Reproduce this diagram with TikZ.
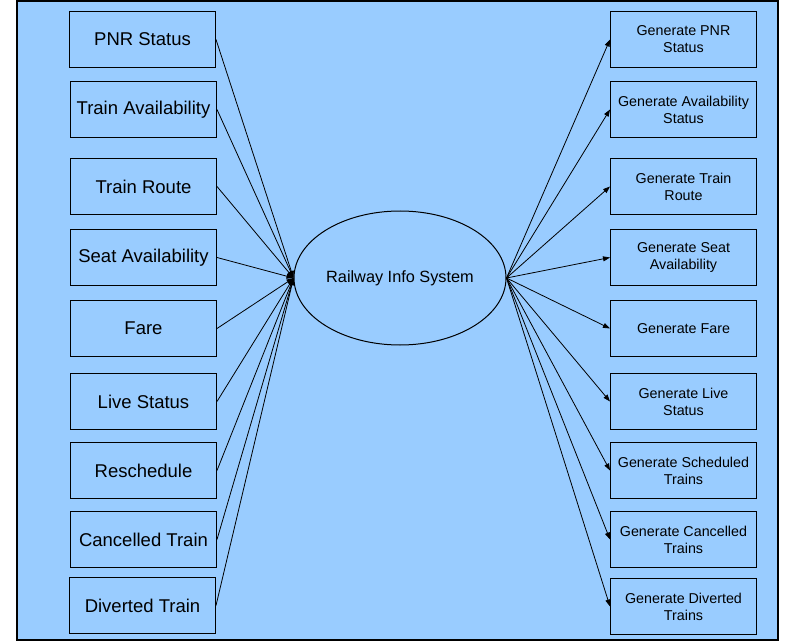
\documentclass[tikz,border=0pt]{standalone}
\usepackage{fontspec}
\setmainfont{Liberation Sans}
\usetikzlibrary{arrows.meta,shapes.geometric}
\definecolor{bgblue}{RGB}{153,204,255}
\tikzset{
  lbox/.style={draw=black, line width=1pt, minimum width=146pt, minimum height=56pt, inner sep=0pt, font=\fontsize{18.5}{21}\selectfont, anchor=north west},
  rbox/.style={draw=black, line width=1pt, minimum width=146pt, minimum height=56pt, inner sep=0pt, font=\fontsize{14.3}{17}\selectfont, align=center, anchor=north west},
  conn/.style={line width=0.8pt, -{Triangle[length=7pt,width=5pt]}},
}
\begin{document}
\begin{tikzpicture}[x=1pt,y=-1pt]
\useasboundingbox (0,0) rectangle (799,644);
\fill[white] (0,0) rectangle (799,644);
\draw[fill=bgblue, line width=1.2pt] (17,1) rectangle (778,640);
\node[draw, ellipse, line width=1pt, minimum width=212pt, minimum height=134pt, inner sep=0pt, font=\fontsize{16.3}{19}\selectfont] (sys) at (400,278) {Railway Info System};
% left boxes
\node[lbox] (l1) at (69,11) {PNR Status};
\node[lbox] (l2) at (70,81) {Train Availability};
\node[lbox] (l3) at (70,158) {Train Route};
\node[lbox] (l4) at (70,229) {Seat Availability};
\node[lbox] (l5) at (70,300) {Fare};
\node[lbox] (l6) at (70,373) {Live Status};
\node[lbox] (l7) at (70,442) {Reschedule};
\node[lbox] (l8) at (70,511) {Cancelled Train};
\node[lbox] (l9) at (69,577) {Diverted Train};
% right boxes
\node[rbox] (r1) at (610,11) {Generate PNR\\Status};
\node[rbox] (r2) at (610,81) {Generate Availability\\Status};
\node[rbox] (r3) at (610,158) {Generate Train\\Route};
\node[rbox] (r4) at (610,229) {Generate Seat\\Availability};
\node[rbox] (r5) at (610,300) {Generate Fare};
\node[rbox] (r6) at (610,373) {Generate Live\\Status};
\node[rbox] (r7) at (610,442) {Generate Scheduled\\Trains};
\node[rbox] (r8) at (610,511) {Generate Cancelled\\Trains};
\node[rbox] (r9) at (610,578) {Generate Diverted\\Trains};
\foreach \i in {1,...,9} {
  \draw[conn] (l\i.east) -- (sys.west);
  \draw[conn] (sys.east) -- (r\i.west);
}
\end{tikzpicture}
\end{document}
